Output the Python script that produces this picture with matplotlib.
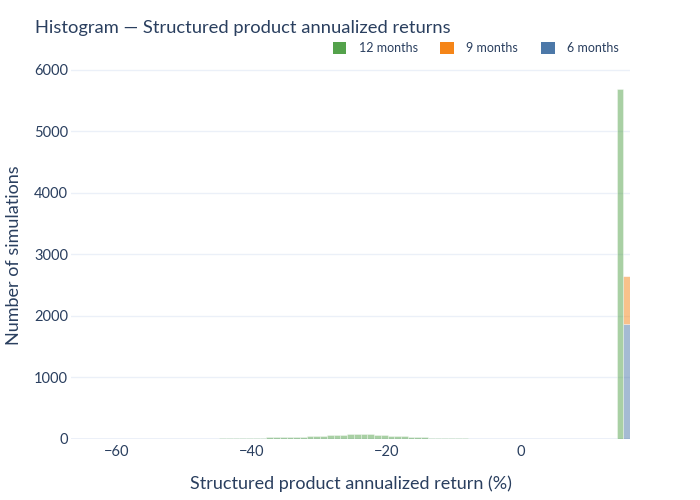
import matplotlib.pyplot as plt
import numpy as np
from matplotlib.patches import Patch

# bin edges of the histogram (width 1 %)
edge_lo, edge_hi = -66.8, 16.2

# 12 months: spread from about -46 to -6 plus the capped bin at ~14.7
twelve_lo = -46.3
twelve_counts = [5, 8, 10, 12, 15, 16, 18, 20, 22, 25, 28, 32, 30, 36, 40, 52,
                 45, 55, 62, 70, 72, 80, 84, 78, 72, 62, 56, 50, 42, 40, 32, 25,
                 20, 16, 14, 10, 8, 6, 5, 3, 2]
twelve_cap = (14.7, 5690)

# 6 months: small tail counts plus the capped bin at ~15.7
six_lo = -20.3
six_counts = [3, 2, 3, 4, 3, 4, 3, 3, 4, 3, 2, 3, 3, 2, 3, 2, 2, 3, 2, 2,
              3, 2, 2, 2, 3, 2, 2, 2, 2, 1, 2, 1, 2, 1, 1]
six_cap = (15.7, 1860)
six_min = (-66.3, 1)

# 9 months (drawn on top of 6 months)
nine_lo = -25.3
nine_counts = [2, 2, 3, 2, 3, 3, 2, 3, 3, 2, 3, 2, 2, 3, 2, 2, 2, 2, 2, 1,
               2, 1, 1, 2, 1, 1, 1, 1, 1, 1, 1, 1, 1, 1, 1, 1, 1, 1, 1]
nine_cap = (15.7, 790)
nine_min = (-66.3, 1)

labels = ['12 months', '9 months', '6 months']
colors = ['#54a24b', '#f58518', '#4c78a8']
text_col = '#2a3f5f'
grid_col = '#ebf0f8'


def series(lo, counts, extra):
    x = list(lo + np.arange(len(counts))) + [e[0] for e in extra]
    w = list(counts) + [e[1] for e in extra]
    return np.array(x), np.array(w)


x12, w12 = series(twelve_lo, twelve_counts, [twelve_cap])
x6, w6 = series(six_lo, six_counts, [six_cap, six_min])
x9, w9 = series(nine_lo, nine_counts, [nine_cap, nine_min])

edges = np.arange(edge_lo, edge_hi + 0.01, 1.0)

plt.rcParams['font.family'] = ['Lato', 'DejaVu Sans']
fig = plt.figure(figsize=(7, 5), dpi=100)
ax = fig.add_axes([71 / 700, 61 / 500, 559 / 700, 370 / 500])

# stacked: 6 months at the bottom, 9 months above, 12 months last
ax.hist([x6, x9, x12], bins=edges, weights=[w6, w9, w12], stacked=True,
        color=[colors[2], colors[1], colors[0]], alpha=0.5,
        edgecolor='white', linewidth=0.5)

ax.set_xlim(edge_lo, edge_hi)
ax.set_ylim(0, 6010)
ax.set_yticks(range(0, 6001, 1000))
ax.set_xticks([-60, -40, -20, 0])
ax.set_xticklabels(['\u221260', '\u221240', '\u221220', '0'])
ax.grid(axis='y', color=grid_col, linewidth=1)
ax.axhline(0, color=grid_col, linewidth=2, zorder=0.5)
ax.set_axisbelow(True)
for s in ax.spines.values():
    s.set_visible(False)
ax.tick_params(length=0, labelsize=10.5, labelcolor=text_col)
ax.tick_params(axis='y', pad=2)
ax.tick_params(axis='x', pad=4)

ax.set_xlabel('Structured product annualized return (%)', fontsize=13,
              color=text_col, labelpad=12)
fig.text(14 / 700, 1 - 255 / 500, 'Number of simulations', fontsize=13,
         color=text_col, rotation=90, va='center', ha='center')
fig.text(35 / 700, 1 - 28 / 500, 'Histogram \u2014 Structured product annualized returns',
         fontsize=13.2, color=text_col, va='center', ha='left')

handles = [Patch(facecolor=c, edgecolor='none') for c in colors]
fig.legend(handles, labels, ncol=3, loc='center right',
           bbox_to_anchor=(630 / 700, 1 - 48 / 500), frameon=False,
           fontsize=9, labelcolor=text_col, handlelength=1.1,
           handleheight=1.1, handletextpad=1.0, columnspacing=1.8)

fig.savefig('out.png', dpi=100)
